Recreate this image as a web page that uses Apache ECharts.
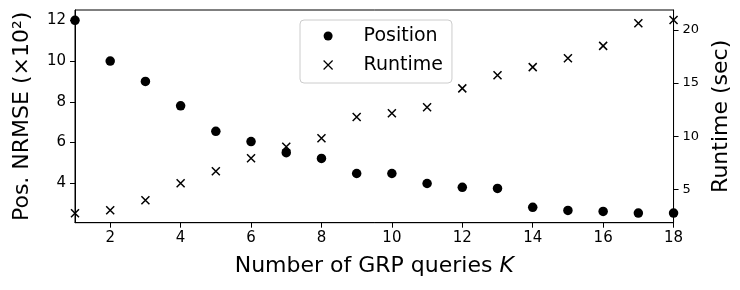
<!DOCTYPE html>
<html>
<head>
<meta charset="utf-8">
<script src="https://cdn.jsdelivr.net/npm/echarts@6/dist/echarts.min.js"></script>
<style>
html,body{margin:0;padding:0;background:#fff;}
#chart{width:740px;height:290px;}
</style>
</head>
<body>
<div id="chart"></div>
<script>
// Data
const K = [1,2,3,4,5,6,7,8,9,10,11,12,13,14,15,16,17,18];
const position = [12.0, 10.0, 9.0, 7.8, 6.55, 6.05, 5.5, 5.22, 4.48, 4.48, 3.99, 3.8, 3.75, 2.82, 2.67, 2.62, 2.54, 2.54];
const runtime = [2.74, 3.02, 3.96, 5.57, 6.7, 7.92, 9.0, 9.8, 11.8, 12.16, 12.72, 14.5, 15.73, 16.5, 17.33, 18.5, 20.63, 20.94];
const xTicks = [2,4,6,8,10,12,14,16,18];
const leftTicks = [4,6,8,10,12];
const rightTicks = [5,10,15,20];

const FONT = 'DejaVu Sans';
const chart = echarts.init(document.getElementById('chart'), null, {renderer: 'canvas'});

const posData = K.map((k, i) => [k, position[i]]);
const runData = K.map((k, i) => [k, runtime[i]]);

const option = {
  animation: false,
  backgroundColor: '#ffffff',
  textStyle: {fontFamily: FONT},
  grid: {left: 75, right: 63, top: 10, bottom: 67.3, show: true, borderColor: '#000', borderWidth: 1, backgroundColor: 'transparent'},
  legend: {
    orient: 'vertical',
    left: 300, top: 20,
    padding: [6, 9, 8, 23],
    itemGap: 9,
    itemWidth: 9, itemHeight: 9,
    backgroundColor: 'rgba(255,255,255,0.8)',
    borderColor: '#cccccc', borderWidth: 1, borderRadius: 4,
    textStyle: {fontFamily: FONT, fontSize: 19, color: '#000', lineHeight: 20, padding: [0,0,0,26]},
    data: [
      {name: 'Position'},
      {name: 'Runtime', itemStyle: {borderWidth: 1.2}}
    ]
  },
  xAxis: {
    type: 'value', min: 1, max: 18,
    name: 'Number of GRP queries {it|K}',
    nameLocation: 'middle', nameGap: 33,
    nameTextStyle: {fontFamily: FONT, fontSize: 22, color: '#000', rich: {it: {fontFamily: FONT, fontSize: 22, fontStyle: 'italic', color: '#000'}}},
    axisLine: {show: true, lineStyle: {color: '#000', width: 1}},
    axisTick: {show: true, inside: false, length: 5, customValues: xTicks, lineStyle: {color: '#000'}},
    axisLabel: {customValues: xTicks, fontFamily: FONT, fontSize: 15, color: '#000', margin: 8},
    splitLine: {show: false}
  },
  yAxis: [
    {
      type: 'value', position: 'left', min: 2.066, max: 12.505,
      name: 'Pos. NRMSE (×10²)',
      nameLocation: 'middle', nameGap: 42, nameRotate: 90,
      nameTextStyle: {fontFamily: FONT, fontSize: 22, color: '#000'},
      axisLine: {show: true, lineStyle: {color: '#000', width: 1}},
      axisTick: {show: true, length: 5, customValues: leftTicks, lineStyle: {color: '#000'}},
      axisLabel: {customValues: leftTicks, fontFamily: FONT, fontSize: 15, color: '#000', margin: 9},
      splitLine: {show: false}
    },
    {
      type: 'value', position: 'right', min: 1.855, max: 21.88,
      name: 'Runtime (sec)',
      nameLocation: 'middle', nameGap: 27, nameRotate: 90,
      nameTextStyle: {fontFamily: FONT, fontSize: 22, color: '#000'},
      axisLine: {show: true, lineStyle: {color: '#000', width: 1}},
      axisTick: {show: true, length: 5, customValues: rightTicks, lineStyle: {color: '#000'}},
      axisLabel: {customValues: rightTicks, fontFamily: FONT, fontSize: 13, color: '#000', margin: 9},
      splitLine: {show: false}
    }
  ],
  series: [
    {
      name: 'Position', type: 'scatter', yAxisIndex: 0,
      symbol: 'circle', symbolSize: 9.5,
      itemStyle: {color: '#000', opacity: 1},
      data: posData, clip: true, z: 3
    },
    {
      name: 'Runtime', type: 'scatter', yAxisIndex: 1,
      symbol: 'path://M0,0L10,10M0,10L10,0', symbolSize: 8,
      itemStyle: {color: 'rgba(0,0,0,0)', borderColor: '#000', borderWidth: 1.5, opacity: 1},
      data: runData, clip: true, z: 3
    }
  ]
};
chart.setOption(option);
</script>
</body>
</html>
